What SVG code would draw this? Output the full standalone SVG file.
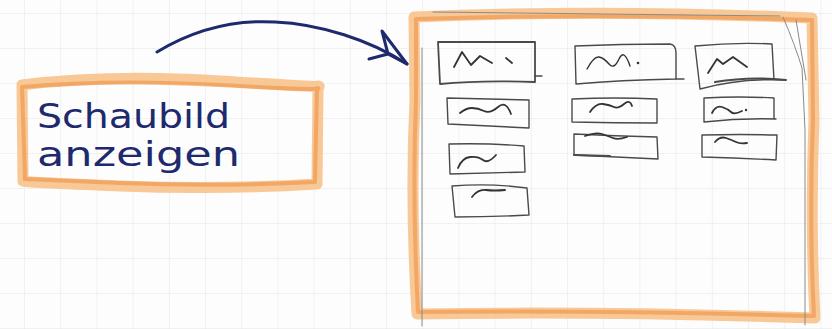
<svg xmlns="http://www.w3.org/2000/svg" width="832" height="329" viewBox="0 0 832 329">
<defs>
<style>
.grid{stroke:#dedede;stroke-width:0.8;fill:none}
.brush{fill:none;stroke:#f7c28c;stroke-width:11;stroke-linejoin:round;stroke-linecap:round;opacity:0.9}
.brush2{fill:none;stroke:#ec8c3c;stroke-width:4;stroke-linejoin:round;stroke-linecap:round;opacity:0.55}
.pen{fill:none;stroke:#1e2a6e;stroke-width:3;stroke-linecap:round;stroke-linejoin:round}
.pencil{fill:none;stroke:#4a4a4a;stroke-width:1.4;stroke-linejoin:round;stroke-linecap:round}
.thin{fill:none;stroke:#8a8a8a;stroke-width:1;stroke-linecap:round}
.sq{fill:none;stroke:#333;stroke-width:1.8;stroke-linecap:round;stroke-linejoin:round}
.hand{font-family:"DejaVu Sans","Liberation Sans",sans-serif;font-size:34px;fill:#1e2a6e}
</style>
<pattern id="gp" x="24" y="13" width="36.2" height="35" patternUnits="userSpaceOnUse">
<path class="grid" d="M0,0 V35 M0,0 H36.2"/>
</pattern>
</defs>
<rect width="832" height="329" fill="#fdfdfd"/>
<rect width="832" height="329" fill="url(#gp)"/>

<g id="node-schaubild-anzeigen">
<path class="brush" d="M22,85 Q110,74 220,81 T318,86 L317,184 Q220,190 120,186 T23,181 Z"/>
<path class="brush2" d="M22,87 Q110,79 220,85 T317,88 L315,182 Q220,187 120,183 T25,179 Z"/>
<text class="hand" x="37" y="128" textLength="193" lengthAdjust="spacingAndGlyphs">Schaubild</text>
<text class="hand" x="37" y="166" textLength="203" lengthAdjust="spacingAndGlyphs">anzeigen</text>
</g>

<g id="node-screen">
<path class="brush" d="M414,17 Q600,9 812,18 L814,120 Q810,220 815,318 Q600,311 417,314 Q410,200 415,100 Z"/>
<path class="brush2" d="M416,19 Q600,13 812,20 L813,120 Q809,220 814,316 Q600,310 418,312 Q412,200 416,100 Z"/>
<path class="thin" d="M433,12 Q600,14 780,16"/>
<path class="thin" d="M422,48 L422,326"/>
<path class="thin" d="M783,17 Q795,45 802,68 L805,130 L805,325"/>
<path class="thin" d="M796,20 L806,80"/>

<g id="panel-a1">
<path class="pencil" d="M438,42 L535,42 L535,82 Q480,80 440,84 Z" style="stroke-width:1.8"/>
<path class="pencil" d="M535,76 L542,76"/>
<path class="sq" d="M454,67 L462,52 L471,65 L480,56 L492,63 M506,58 L512,63"/>
</g>
<g id="panel-a2">
<path class="pencil" d="M447,98 Q490,99 529,100 L529,128 Q490,126 448,124 Z"/>
<path class="sq" d="M460,113 Q466,108 472,108 T484,111 T498,107 T511,114"/>
</g>
<g id="panel-a3">
<path class="pencil" d="M449,144 Q490,143 524,146 L525,172 Q490,173 450,174 Z"/>
<path class="sq" d="M458,168 Q462,158 470,157 T483,160 T496,155"/>
</g>
<g id="panel-a4">
<path class="pencil" d="M452,186 Q490,183 527,188 L529,215 Q490,217 455,217 Z"/>
<path class="sq" d="M472,197 Q478,189 486,190 T505,190"/>
</g>

<g id="panel-b1">
<path class="pencil" d="M575,46 Q620,44 670,44 Q676,45 676,53 L676,79 Q620,80 576,84 Z"/>
<path class="pencil" d="M676,79 L684,79"/>
<path class="sq" d="M587,69 Q594,56 599,57 T609,64 T619,59 T630,66" style="stroke-width:1.4"/>
<circle cx="638" cy="63" r="1.3" fill="#333"/>
</g>
<g id="panel-b2">
<path class="pencil" d="M572,99 Q615,97 657,99 L657,123 Q615,123 572,122 Z"/>
<path class="sq" d="M590,112 Q596,103 603,104 T614,107 T624,104 T632,106"/>
</g>
<g id="panel-b3">
<path class="pencil" d="M574,134 Q615,136 657,137 L658,159 Q615,157 574,155 Z"/>
<path class="pencil" d="M574,155 L610,156" style="stroke-width:2"/>
<path class="sq" d="M585,136 Q596,132 602,134 T613,138 T627,137"/>
</g>

<g id="panel-c1">
<path class="pencil" d="M695,46 Q735,42 772,44 L774,80 M695,46 L700,89 Q740,78 784,80"/>
<path class="pencil" d="M715,82 Q750,76 786,80" style="stroke-width:2"/>
<path class="sq" d="M708,73 L717,59 L723,64 L733,57 L747,67"/>
</g>
<g id="panel-c2">
<path class="pencil" d="M704,98 Q740,96 774,98 L774,119 M704,98 L704,122 Q740,118 776,119"/>
<path class="sq" d="M712,113 Q716,105 722,107 T731,112 T742,111"/>
<circle cx="746" cy="110" r="1.2" fill="#333"/>
</g>
<g id="panel-c3">
<path class="pencil" d="M702,135 Q740,134 777,135 L776,160 Q740,158 702,157 Z"/>
<path class="sq" d="M715,142 Q720,136 726,138 T736,142 T747,143"/>
</g>
</g>

<g id="connectors">
<path class="pen" d="M157,52 C200,26 240,20 275,22 C320,24 370,40 407,64"/>
<path class="pen" d="M407,64 L388,54 L382,31 Z M388,54 L369,59"/>
</g>
</svg>
